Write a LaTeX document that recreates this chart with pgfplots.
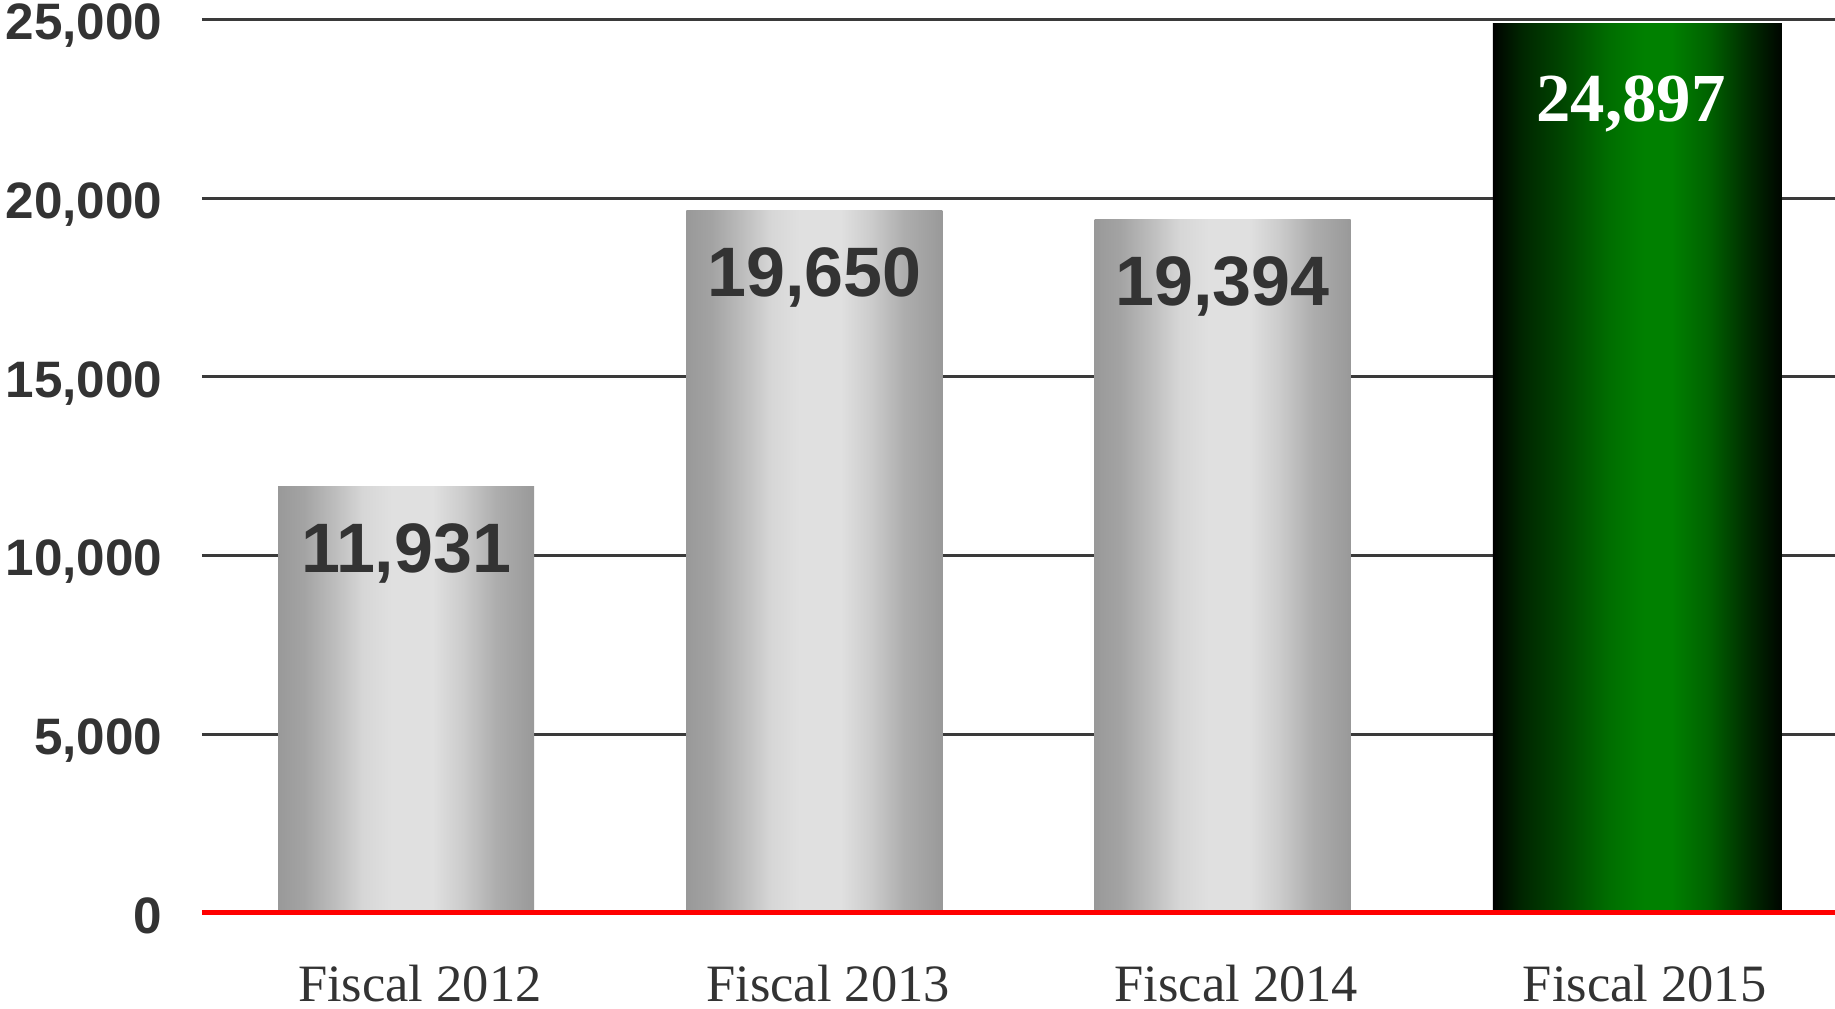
\documentclass[border=0pt]{standalone}
\usepackage{pgfplots}
\pgfplotsset{compat=1.18}
\usepackage{fontspec}
\setmainfont{Liberation Serif}
\setsansfont{Liberation Sans}
\definecolor{txt}{HTML}{333333}
\definecolor{gridc}{HTML}{3A3A3A}
\pgfdeclarehorizontalshading{graybar}{100bp}{rgb(0bp)=(.60,.60,.60); rgb(25bp)=(.60,.60,.60); rgb(30bp)=(.64,.64,.64); rgb(36bp)=(.74,.74,.74); rgb(41.5bp)=(.84,.84,.84); rgb(47.5bp)=(.88,.88,.88); rgb(55bp)=(.88,.88,.88); rgb(61bp)=(.80,.80,.80); rgb(67.5bp)=(.68,.68,.68); rgb(75bp)=(.60,.60,.60); rgb(100bp)=(.60,.60,.60)}
\pgfdeclarehorizontalshading{greenbar}{100bp}{rgb(0bp)=(0,0,0); rgb(25bp)=(0,0,0); rgb(26bp)=(0,.04,0); rgb(30bp)=(0,.15,0); rgb(37.5bp)=(0,.28,0); rgb(45bp)=(0,.43,0); rgb(51bp)=(0,.5,0); rgb(56bp)=(0,.5,0); rgb(62.5bp)=(0,.38,0); rgb(69bp)=(0,.18,0); rgb(75bp)=(0,.02,0); rgb(100bp)=(0,.02,0)}
\pgfplotsset{
  graystyle/.style={ybar, bar width=0.6275, bar shift=0pt, draw=none, shade, shading=graybar,
    nodes near coords={\pgfmathprintnumber[assume math mode=true,1000 sep={,}]{\pgfplotspointmeta}},
    every node near coord/.append style={font=\sffamily\bfseries\fontsize{28}{33}\selectfont, text=txt, anchor=base, yshift=-34.4pt}},
}
\begin{document}
\begin{tikzpicture}
\begin{axis}[
  scale only axis, width=653.2pt, height=357.4pt,
  xmin=-0.5, xmax=3.5, ymin=0, ymax=25000,
  scaled y ticks=false, scaled x ticks=false,
  axis line style={draw=none},
  xtick={0,1,2,3},
  xticklabels={Fiscal 2012,Fiscal 2013,Fiscal 2014,Fiscal 2015},
  ytick={0,5000,10000,15000,20000,25000},
  yticklabels={0,{5,000},{10,000},{15,000},{20,000},{25,000}},
  major tick length=0pt,
  ymajorgrids, grid style={gridc, line width=1.2pt},
  xticklabel style={font=\fontsize{21}{25}\selectfont, text=txt, anchor=base, inner sep=0pt, yshift=-35.3pt, xshift=5.5pt},
  yticklabel style={font=\sffamily\bfseries\fontsize{20.5}{24}\selectfont, text=txt, anchor=base east, inner sep=0pt, xshift=-15.6pt, yshift=-8.1pt},
  clip=false,
]
\addplot[graystyle] coordinates {(0,11931)};
\addplot[graystyle] coordinates {(1,19650)};
\addplot[graystyle] coordinates {(2,19394)};
\addplot[ybar, bar width=0.708, bar shift=2.6pt, draw=none, shade, shading=greenbar,
  nodes near coords={\pgfmathprintnumber[assume math mode=true,1000 sep={,}]{\pgfplotspointmeta}},
  every node near coord/.append style={font=\rmfamily\bfseries\fontsize{27.5}{32}\selectfont, text=white, anchor=base, yshift=-39.4pt}]
  coordinates {(3,24897)};
\addplot[red, line width=2pt, forget plot] coordinates {(-0.5,0) (3.5,0)};
\end{axis}
\pgfresetboundingbox
\path[use as bounding box] (-80.8pt,-38.4pt) rectangle (653.2pt,365.2pt);
\end{tikzpicture}
\end{document}
